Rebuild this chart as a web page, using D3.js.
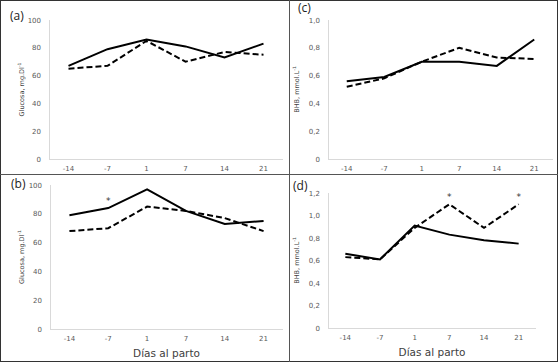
<!DOCTYPE html>
<html>
<head>
<meta charset="utf-8">
<script src="https://cdn.jsdelivr.net/npm/d3@7"></script>
<style>
  body { margin: 0; background: #fff; }
  svg { display: block; }
</style>
</head>
<body>
<svg id="canvas" width="559" height="364"></svg>
<script>
const days = ["-14", "-7", "1", "7", "14", "21"];

// glucose, mg/dl
const glucA_solid = [67, 79, 86, 81, 73, 83];
const glucA_dash = [65, 67, 85, 70, 77, 75];
const glucB_solid = [79, 84, 97, 82, 73, 75];
const glucB_dash = [68, 70, 85, 82, 77, 68];

// BHB, mmol/L
const bhbC_solid = [0.56, 0.59, 0.70, 0.70, 0.67, 0.86];
const bhbC_dash = [0.52, 0.58, 0.70, 0.80, 0.73, 0.72];
const bhbD_solid = [0.66, 0.61, 0.91, 0.83, 0.78, 0.75];
const bhbD_dash = [0.63, 0.61, 0.89, 1.10, 0.89, 1.10];

const glucTicks = [0, 20, 40, 60, 80, 100];
const bhbTicksC = [0, 0.2, 0.4, 0.6, 0.8, 1.0];
const bhbTicksD = [0, 0.2, 0.4, 0.6, 0.8, 1.0, 1.2];

const svg = d3.select("svg#canvas");
const comma = (d) => d === 0 ? "0" : d3.format(".1f")(d).replace(".", ",");

// frame
svg.append("rect").attr("x", 0.5).attr("y", 0.5).attr("width", 557).attr("height", 361)
  .attr("fill", "none").attr("stroke", "#333").attr("stroke-width", 1);
svg.append("line").attr("x1", 289.5).attr("x2", 289.5).attr("y1", 0).attr("y2", 362)
  .attr("stroke", "#555");
svg.append("line").attr("x1", 0).attr("x2", 558).attr("y1", 174.5).attr("y2", 174.5)
  .attr("stroke", "#555");

function panel(p) {
  const g = svg.append("g");
  const x = d3.scaleBand().domain(days).range([p.x0, p.x1]);
  const y = d3.scaleLinear().domain([0, p.ymax]).range([p.y0, p.y1]);

  // axes lines
  g.append("line").attr("x1", p.x0 + 0.5).attr("x2", p.x0 + 0.5).attr("y1", p.y1).attr("y2", p.y0)
    .attr("stroke", "#d9d9d9");
  g.append("line").attr("x1", p.x0).attr("x2", p.x1).attr("y1", p.y0 + 0.5).attr("y2", p.y0 + 0.5)
    .attr("stroke", "#d9d9d9");

  g.selectAll(".yt").data(p.ticks).enter().append("text")
    .attr("x", p.x0 - 8).attr("y", (d) => y(d) + 2.5)
    .attr("text-anchor", "end").attr("font-family", "DejaVu Sans").attr("font-size", 7)
    .attr("fill", "#595959").text(p.fmt);

  g.selectAll(".xt").data(days).enter().append("text")
    .attr("x", (d) => x(d) + x.bandwidth() / 2).attr("y", p.y0 + 12)
    .attr("text-anchor", "middle").attr("font-family", "DejaVu Sans").attr("font-size", 7)
    .attr("fill", "#595959").text((d) => d);

  // y title
  const yt = g.append("text")
    .attr("transform", `translate(${p.ylabX},${(p.y0 + p.y1) / 2}) rotate(-90)`)
    .attr("text-anchor", "middle").attr("font-family", "DejaVu Sans").attr("font-size", 6.5)
    .attr("fill", "#404040");
  yt.append("tspan").text(p.ylab);
  yt.append("tspan").attr("font-size", 4.5).attr("dy", -3).text("-1");

  g.append("text").attr("x", p.lx).attr("y", p.ly).attr("font-family", "Open Sans")
    .attr("font-size", 12).attr("fill", "#222").text(p.label);

  const line = d3.line().x((d, i) => x(days[i]) + x.bandwidth() / 2).y((d) => y(d));
  g.append("path").datum(p.solid).attr("d", line).attr("fill", "none")
    .attr("stroke", "#000").attr("stroke-width", 2);
  g.append("path").datum(p.dash).attr("d", line).attr("fill", "none")
    .attr("stroke", "#000").attr("stroke-width", 2).attr("stroke-dasharray", "6,3");

  (p.stars || []).forEach((s) => {
    g.append("text").attr("x", x(days[s.i]) + x.bandwidth() / 2).attr("y", y(s.v) - 4)
      .attr("text-anchor", "middle").attr("font-family", "DejaVu Sans").attr("font-size", 9)
      .attr("fill", "#333").text("*");
  });

  if (p.xlab) {
    g.append("text").attr("x", (p.x0 + p.x1) / 2).attr("y", p.y0 + 28)
      .attr("text-anchor", "middle").attr("font-family", "DejaVu Sans").attr("font-size", 10.5)
      .attr("fill", "#404040").text("Días al parto");
  }
}

panel({ x0: 49, x1: 283, y0: 159, y1: 20, ymax: 100, ticks: glucTicks, fmt: (d) => d,
  ylab: "Glucosa, mg.Dl", ylabX: 24, label: "(a)", lx: 10, ly: 20,
  solid: glucA_solid, dash: glucA_dash });
panel({ x0: 50, x1: 283, y0: 329, y1: 185, ymax: 100, ticks: glucTicks, fmt: (d) => d,
  ylab: "Glucosa, mg.Dl", ylabX: 24, label: "(b)", lx: 11, ly: 188,
  solid: glucB_solid, dash: glucB_dash, stars: [{ i: 1, v: glucB_solid[1] }], xlab: true });
panel({ x0: 328, x1: 553, y0: 159, y1: 20, ymax: 1.0, ticks: bhbTicksC, fmt: comma,
  ylab: "BHB, mmol.L", ylabX: 299, label: "(c)", lx: 298, ly: 12,
  solid: bhbC_solid, dash: bhbC_dash });
panel({ x0: 328, x1: 536, y0: 328, y1: 193, ymax: 1.2, ticks: bhbTicksD, fmt: comma,
  ylab: "BHB, mmol.L", ylabX: 299, label: "(d)", lx: 293, ly: 190,
  solid: bhbD_solid, dash: bhbD_dash,
  stars: [{ i: 3, v: bhbD_dash[3] }, { i: 5, v: bhbD_dash[5] }], xlab: true });
</script>
</body>
</html>
